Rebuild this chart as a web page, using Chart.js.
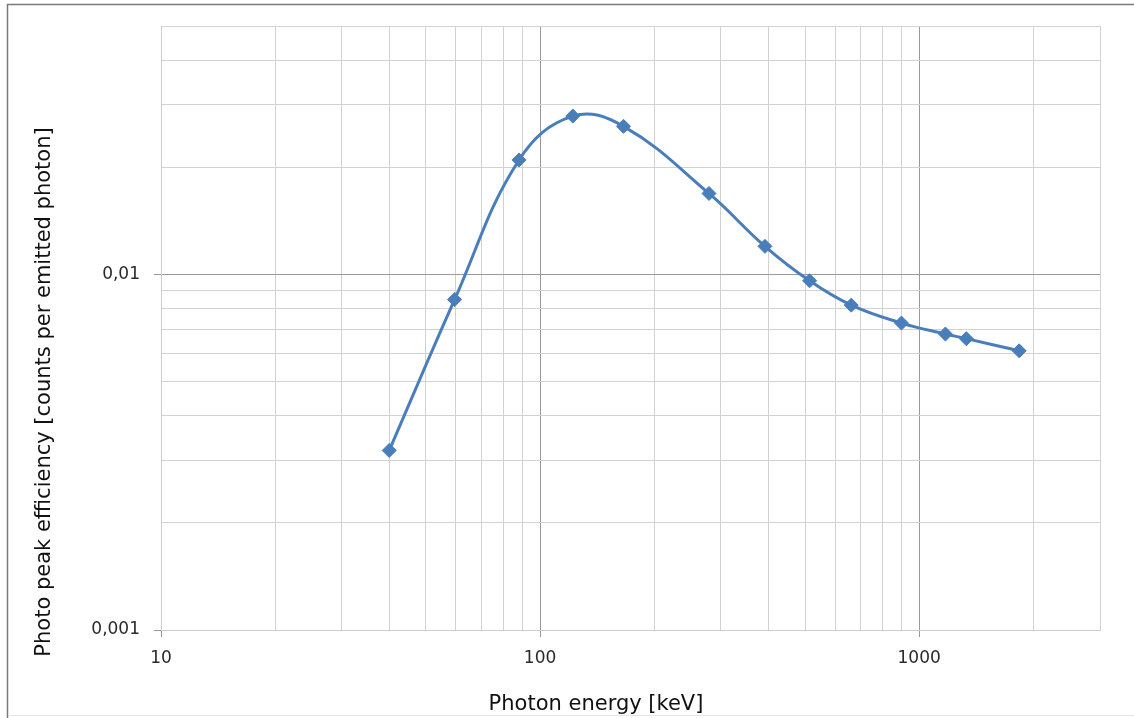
<!DOCTYPE html>
<html>
<head>
<meta charset="utf-8">
<script src="https://cdn.jsdelivr.net/npm/chart.js@4.4.1/dist/chart.umd.min.js"></script>
<style>
  html, body { margin: 0; padding: 0; background: #fff; }
  #wrap { width: 1134px; height: 718px; }
</style>
</head>
<body>
<div id="wrap"><canvas id="chart"></canvas></div>
<script>
// Measured points: photon energy [keV] and photo peak efficiency
const energies = [40, 59.5, 88, 122, 166, 279, 392, 514, 662, 898, 1173, 1332, 1836];
const efficiencies = [0.0032, 0.0085, 0.0210, 0.0279, 0.0261, 0.0169, 0.0120, 0.0096, 0.0082, 0.0073, 0.0068, 0.0066, 0.0061];

// Grid lines (log decades) and the ones that get a label
const xGridValues = [10, 20, 30, 40, 50, 60, 70, 80, 90, 100, 200, 300, 400, 500, 600, 700, 800, 900, 1000, 2000, 3000];
const yGridValues = [0.001, 0.002, 0.003, 0.004, 0.005, 0.006, 0.007, 0.008, 0.009, 0.01, 0.02, 0.03, 0.04, 0.05];
const xTickLabels = [10, 100, 1000];
const yTickLabels = [0.001, 0.01];
const xDarkLines = [100, 1000];
const yDarkLines = [0.01];

const xTitle = 'Photon energy [keV]';
const yTitle = 'Photo peak efficiency [counts per emitted photon]';

const lineBlue = '#4a7ebb';
const titleFont = '21px "DejaVu Sans", Verdana, sans-serif';

// frame + axis titles drawn on the canvas
const framePlugin = {
  id: 'frame',
  beforeDraw(chart) {
    const ctx = chart.ctx;
    ctx.save();
    ctx.fillStyle = '#ffffff';
    ctx.fillRect(0, 0, chart.width, chart.height);
    ctx.strokeStyle = '#7a7a7a';
    ctx.lineWidth = 1.5;
    ctx.beginPath();
    ctx.moveTo(7.5, chart.height);
    ctx.lineTo(7.5, 4.5);
    ctx.lineTo(chart.width, 4.5);
    ctx.stroke();
    ctx.strokeStyle = '#e4e4e4';
    ctx.lineWidth = 1;
    ctx.beginPath();
    ctx.moveTo(8, chart.height - 2.5);
    ctx.lineTo(chart.width, chart.height - 2.5);
    ctx.stroke();
    ctx.restore();
  },
  afterDraw(chart) {
    const ctx = chart.ctx;
    ctx.save();
    ctx.fillStyle = '#111111';
    ctx.font = titleFont;
    ctx.textAlign = 'center';
    ctx.textBaseline = 'alphabetic';
    ctx.fillText(xTitle, 596, 710);
    ctx.translate(50, 392);
    ctx.rotate(-Math.PI / 2);
    ctx.fillText(yTitle, 0, 0);
    ctx.restore();
  }
};

const ctx = document.getElementById('chart').getContext('2d');
new Chart(ctx, {
  type: 'scatter',
  data: {
    datasets: [{
      data: energies.map((e, i) => ({ x: e, y: efficiencies[i] })),
      showLine: true,
      borderColor: lineBlue,
      backgroundColor: lineBlue,
      borderWidth: 3,
      tension: 0.4,
      pointStyle: 'rectRot',
      pointRadius: 7,
      pointHoverRadius: 7,
      pointBorderWidth: 1
    }]
  },
  options: {
    responsive: true,
    maintainAspectRatio: false,
    animation: false,
    layout: { padding: { top: 26, right: 34, left: 0, bottom: 0 } },
    plugins: {
      legend: { display: false },
      tooltip: { enabled: false }
    },
    scales: {
      x: {
        type: 'logarithmic',
        min: 10,
        max: 3000,
        afterBuildTicks: (scale) => { scale.ticks = xGridValues.map(v => ({ value: v })); },
        afterFit: (scale) => { scale.height = 88; },
        border: { color: '#cccccc' },
        grid: {
          color: (c) => xDarkLines.includes(c.tick && c.tick.value) ? '#999999' : '#d2d2d2',
          tickColor: (c) => xTickLabels.includes(c.tick && c.tick.value) ? '#999999' : 'rgba(0,0,0,0)',
          tickLength: 7,
          lineWidth: 1
        },
        ticks: {
          autoSkip: false,
          maxRotation: 0,
          padding: 11,
          color: '#2a2a2a',
          font: { family: '"DejaVu Sans", sans-serif', size: 17 },
          callback: (v) => xTickLabels.includes(v) ? String(v) : ''
        }
      },
      y: {
        type: 'logarithmic',
        min: 0.001,
        max: 0.05,
        afterBuildTicks: (scale) => { scale.ticks = yGridValues.map(v => ({ value: v })); },
        afterFit: (scale) => { scale.width = 161; },
        border: { color: '#cccccc' },
        grid: {
          color: (c) => yDarkLines.includes(c.tick && c.tick.value) ? '#999999' : '#d2d2d2',
          tickColor: (c) => yTickLabels.includes(c.tick && c.tick.value) ? '#999999' : 'rgba(0,0,0,0)',
          tickLength: 7,
          lineWidth: 1
        },
        ticks: {
          autoSkip: false,
          padding: 14,
          color: '#2a2a2a',
          font: { family: '"DejaVu Sans", sans-serif', size: 17 },
          callback: (v) => yTickLabels.includes(v) ? String(v).replace('.', ',') : ''
        }
      }
    }
  },
  plugins: [framePlugin]
});
</script>
</body>
</html>
